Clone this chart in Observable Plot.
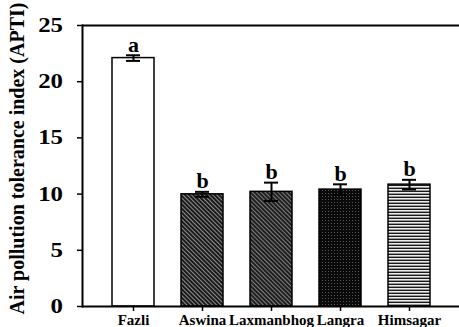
<!DOCTYPE html>
<html>
<head>
<meta charset="utf-8">
<script src="https://cdn.jsdelivr.net/npm/d3@7"></script>
<script src="https://cdn.jsdelivr.net/npm/@observablehq/plot@0.6"></script>
<style>
  html, body { margin: 0; padding: 0; background: #fff; }
</style>
</head>
<body>
<div id="chart"></div>
<script>
const cultivars = ["Fazli", "Aswina", "Laxmanbhog", "Langra", "Himsagar"];
const apti = [22.1, 9.98, 10.2, 10.4, 10.84];
const errs = [0.25, 0.22, 0.82, 0.47, 0.43];
const letters = ["a", "b", "b", "b", "b"];
const yTicks = [0, 5, 10, 15, 20, 25];
const yLabel = "Air pollution tolerance index (APTI)";

const fills = ["#ffffff", "url(#p-asw)", "url(#p-lax)", "url(#p-lan)", "url(#p-him)"];

const data = cultivars.map((c, i) => ({
  cultivar: c, apti: apti[i], err: errs[i], letter: letters[i],
  lo: apti[i] - errs[i], hi: apti[i] + errs[i]
}));

const font = "'Liberation Serif', 'Times New Roman', serif";
const marginLeft = 82;
const tickLabelRight = marginLeft - 5 - 14;

const chart = Plot.plot({
  width: 459,
  height: 327,
  marginLeft,
  marginRight: 0,
  marginTop: 25,
  marginBottom: 21,
  style: { fontFamily: font, fontWeight: "bold", background: "#fff", overflow: "visible" },
  x: { domain: cultivars, paddingInner: 0.395, paddingOuter: 0.418, label: null },
  y: { domain: [0, 25], label: null },
  color: { type: "ordinal", domain: cultivars, range: fills },
  marks: [
    Plot.barY(data, { x: "cultivar", y: "apti", fill: "cultivar", stroke: "#000", strokeWidth: 1.5 }),
    Plot.ruleX(data, { x: "cultivar", y1: "lo", y2: "hi", stroke: "#000", strokeWidth: 2 }),
    Plot.tickY(data, { x: "cultivar", y: "hi", stroke: "#000", strokeWidth: 2, insetLeft: 14, insetRight: 14 }),
    Plot.tickY(data, { x: "cultivar", y: "lo", stroke: "#000", strokeWidth: 2, insetLeft: 14, insetRight: 14 }),
    Plot.text(data, { x: "cultivar", y: "hi", text: "letter", lineAnchor: "bottom", dy: -3.5, fontSize: 22, fontWeight: "bold", fill: "#000" }),
    Plot.axisY({ ticks: yTicks, tickSize: 5, text: null, strokeWidth: 1.5, label: null }),
    Plot.text(yTicks, { y: d => d, frameAnchor: "left", text: d => String(d), textAnchor: "end", lineAnchor: "middle", fontSize: 22, fontWeight: "bold", fill: "#000", className: "ytick" }),
    Plot.axisX({ tickSize: 5, tickPadding: 3, fontSize: 15, fontWeight: "bold", strokeWidth: 1.5, label: null }),
    Plot.ruleY([0], { stroke: "#000", strokeWidth: 2 }),
    Plot.ruleY([25], { stroke: "#000", strokeWidth: 2 }),
    Plot.frame({ anchor: "left", stroke: "#000", strokeWidth: 2 }),
    Plot.text([yLabel], { frameAnchor: "left", text: d => d, textAnchor: "middle", lineAnchor: "middle", rotate: -90, dx: -64.5, dy: -7.5, fontSize: 20, fontWeight: "bold", fill: "#000" })
  ]
});

// y tick labels in the reference are slightly wide: stretch them horizontally about their right edge
d3.select(chart).selectAll("g.ytick")
  .attr("transform", `translate(${tickLabelRight},0) scale(1.13,1) translate(${-marginLeft},0)`)
  .style("font-weight", "700")
  .selectAll("text").style("font-weight", "700");

// pattern definitions for hatched bars
const ns = "http://www.w3.org/2000/svg";
const defs = document.createElementNS(ns, "defs");
defs.innerHTML = `
  <pattern id="p-asw" width="3" height="3" patternUnits="userSpaceOnUse" patternTransform="rotate(-45)">
    <rect width="3" height="3" fill="#1a1a1a"/>
    <rect width="1" height="3" fill="#8c8c8c"/>
  </pattern>
  <pattern id="p-lax" width="3" height="3" patternUnits="userSpaceOnUse" patternTransform="rotate(-45)">
    <rect width="3" height="3" fill="#1e1e1e"/>
    <rect width="1" height="3" fill="#7e7e7e"/>
  </pattern>
  <pattern id="p-lan" width="3" height="3" patternUnits="userSpaceOnUse">
    <rect width="3" height="3" fill="#0a0a0a"/>
    <rect x="1" y="1" width="1" height="1" fill="#555"/>
  </pattern>
  <pattern id="p-him" width="4" height="3" patternUnits="userSpaceOnUse">
    <rect width="4" height="3" fill="#ececec"/>
    <rect y="1.6" width="4" height="1.4" fill="#1a1a1a"/>
  </pattern>`;
chart.insertBefore(defs, chart.firstChild);

document.getElementById("chart").appendChild(chart);
</script>
</body>
</html>
